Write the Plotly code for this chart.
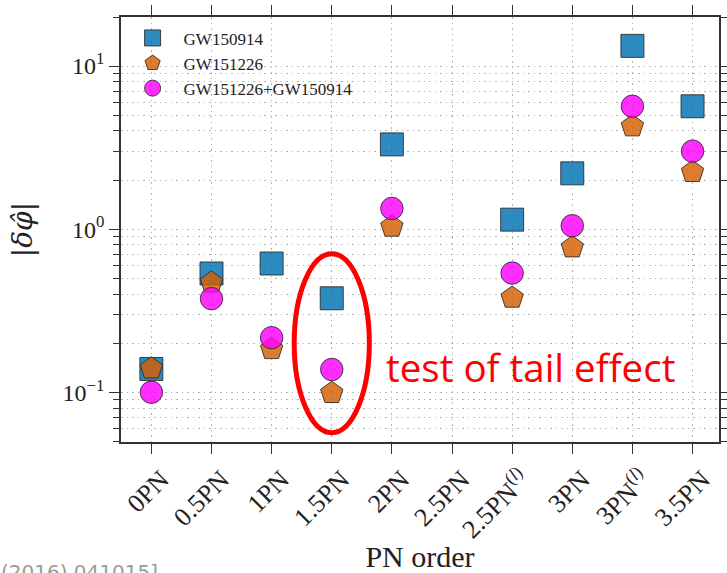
import plotly.graph_objects as go

# PN orders tested and the bounds on each deviation coefficient
pn_labels = ["0PN", "0.5PN", "1PN", "1.5PN", "2PN", "2.5PN",
             "2.5PN<sup>(<i>l</i>)</sup>", "3PN", "3PN<sup>(<i>l</i>)</sup>", "3.5PN"]
gw150914 = [0.139, 0.535, 0.616, 0.377, 3.31, None, 1.144, 2.20, 13.3, 5.67]
gw151226 = [0.140, 0.470, 0.184, 0.099, 1.036, None, 0.380, 0.773, 4.27, 2.24]
combined = [0.100, 0.375, 0.216, 0.138, 1.34, None, 0.538, 1.05, 5.67, 3.01]

x_idx = list(range(len(pn_labels)))

serif = "Liberation Serif"
grid_col = "#b3b3b3"
axis_col = "#333333"
edge = dict(color="rgba(40,40,40,0.85)", width=1)

fig = go.Figure()
series = [
    ("GW150914", gw150914, "square", 23, "rgba(0,114,178,0.82)"),
    ("GW151226", gw151226, "pentagon", 23.5, "rgba(213,94,0,0.82)"),
    ("GW151226+GW150914", combined, "circle", 22.5, "rgba(255,0,255,0.82)"),
]
for name, vals, sym, size, col in series:
    fig.add_trace(go.Scatter(
        x=x_idx, y=vals, mode="markers", name=name,
        marker=dict(symbol=sym, size=size, color=col, line=edge),
    ))

minor_vals = [m * 10 ** e for e in (-2, -1, 0, 1) for m in range(2, 10)]

fig.update_layout(
    width=727, height=573,
    margin=dict(l=120.6, r=8.4, t=17, b=131),
    plot_bgcolor="white", paper_bgcolor="white",
    font=dict(family=serif, color="#222222"),
    showlegend=True,
    legend=dict(
        x=0.001, y=0.992, xanchor="left", yanchor="top",
        bgcolor="rgba(0,0,0,0)", font=dict(family=serif, size=17, color="#222222"),
        itemsizing="trace", itemwidth=52, tracegroupgap=0,
    ),
    xaxis=dict(
        range=[-0.505, 9.44], automargin=False,
        tickmode="array", tickvals=x_idx, ticktext=pn_labels,
        tickangle=-45, tickfont=dict(family=serif, size=26, color="#222222"),
        ticklabelshift=10,
        ticks="outside", ticklen=10, tickwidth=1.3, tickcolor=axis_col,
        showline=True, linecolor=axis_col, linewidth=1.6, mirror="ticks",
        showgrid=True, gridcolor=grid_col, gridwidth=1, griddash="1.5px,4px",
        zeroline=False,
        title=dict(text="PN order", font=dict(family=serif, size=30, color="#222222"), standoff=15),
    ),
    yaxis=dict(
        type="log", range=[-1.305, 1.301], automargin=False,
        tickmode="array", tickvals=[0.1, 1, 10],
        ticktext=["10<sup>−1</sup>", "10<sup>0</sup>", "10<sup>1</sup>"],
        tickfont=dict(family=serif, size=24, color="#222222"),
        ticks="outside", ticklen=10, tickwidth=1.3, tickcolor=axis_col,
        showline=True, linecolor=axis_col, linewidth=1.6, mirror="ticks",
        showgrid=True, gridcolor=grid_col, gridwidth=1, griddash="1.5px,4px",
        minor=dict(tickmode="array", tickvals=minor_vals, ticks="outside", ticklen=6,
                   tickwidth=1.1, tickcolor=axis_col, showgrid=True,
                   gridcolor=grid_col, gridwidth=1, griddash="1.5px,4px"),
        zeroline=False,
        title=dict(text="|<i>δφ̂</i>|", font=dict(family="DejaVu Serif", size=28, color="#222222"),
                   standoff=22),
    ),
)

# highlight of the 1.5PN bounds
fig.add_shape(type="circle", xref="x", yref="paper",
              x0=3 - 0.625, x1=3 + 0.625, y0=0.022, y1=0.443,
              line=dict(color="#ff0000", width=5))
fig.add_annotation(text="test of tail effect", xref="paper", yref="paper",
                   x=0.4405, y=0.176, xanchor="left", yanchor="middle", showarrow=False,
                   font=dict(family="Open Sans", size=38.5, color="#ff0000"))

# citation fragment at the lower-left edge
fig.add_annotation(text="(2016) 041015]", xref="paper", yref="paper",
                   x=-0.204, y=-0.272, xanchor="left", yanchor="top", showarrow=False,
                   font=dict(family="DejaVu Sans", size=20, color="#9a9a9a"))

fig.write_html("out.html")
